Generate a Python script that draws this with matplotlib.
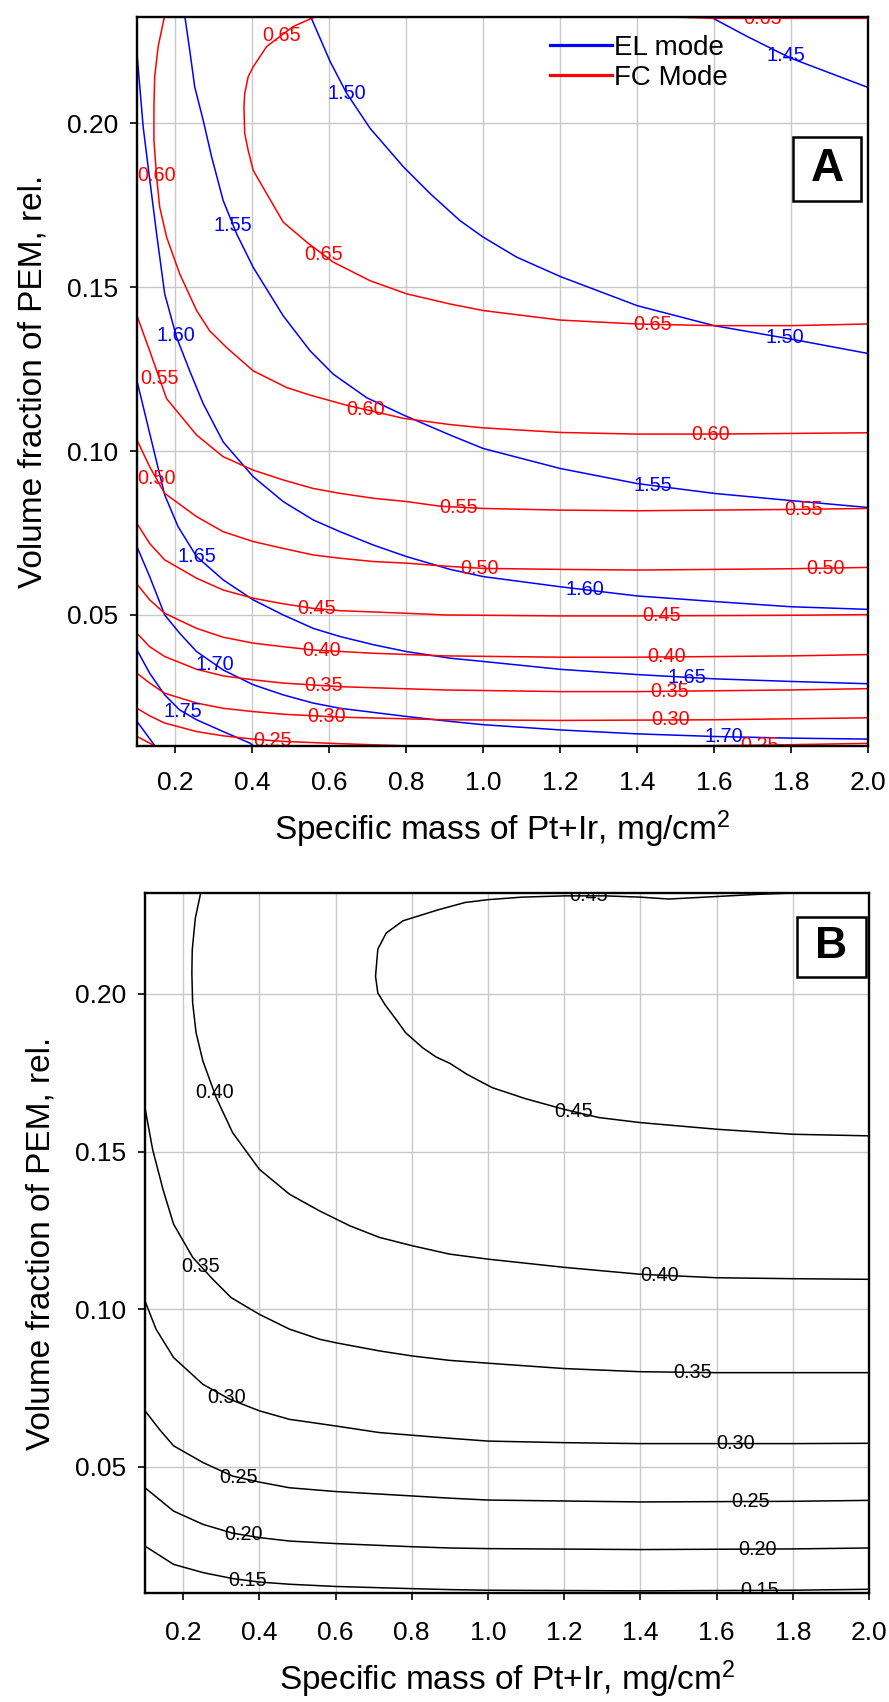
import numpy as np
import matplotlib
matplotlib.use("Agg")
import matplotlib.pyplot as plt
from matplotlib.lines import Line2D
from matplotlib.patches import Rectangle

plt.rcParams["font.family"] = ["Liberation Sans", "DejaVu Sans"]
plt.rcParams["mathtext.fontset"] = "custom"
plt.rcParams["mathtext.rm"] = "Liberation Sans"
plt.rcParams["mathtext.it"] = "Liberation Sans:italic"

# ---------------- Panel A: EL mode isolines (blue) ----------------
el_145_x = [1.583, 1.687, 1.80, 2.0]
el_145_y = [0.2330, 0.2265, 0.2199, 0.2110]
el_150_x = [0.550, 0.602, 0.645, 0.706, 0.793, 0.862, 0.939, 1.0, 1.087, 1.2, 1.4, 1.6, 1.8, 2.0]
el_150_y = [0.2330, 0.2189, 0.2092, 0.1985, 0.1867, 0.1786, 0.1704, 0.1653, 0.1592, 0.1533,
            0.1444, 0.1383, 0.1342, 0.1298]
el_155_x = [0.224, 0.237, 0.250, 0.272, 0.294, 0.324, 0.359, 0.402, 0.480, 0.550, 0.610, 0.697,
            0.793, 0.914, 1.0, 1.2, 1.4, 1.6, 1.8, 2.0]
el_155_y = [0.2330, 0.2224, 0.2112, 0.2010, 0.1898, 0.1765, 0.1663, 0.1561, 0.1413, 0.1306,
            0.1235, 0.1163, 0.1110, 0.1049, 0.1008, 0.0947, 0.0901, 0.0871, 0.0849, 0.0828]
el_160_x = [0.1, 0.116, 0.129, 0.151, 0.172, 0.203, 0.237, 0.272, 0.324, 0.402, 0.480, 0.558,
            0.628, 0.715, 0.801, 0.914, 1.0, 1.2, 1.4, 1.6, 1.8, 2.0]
el_160_y = [0.2214, 0.1990, 0.1867, 0.1663, 0.1480, 0.1347, 0.1245, 0.1145, 0.1028, 0.0922,
            0.0846, 0.0790, 0.0754, 0.0713, 0.0678, 0.0639, 0.0617, 0.0586, 0.0558, 0.0541,
            0.0525, 0.0517]
el_165_x = [0.1, 0.131, 0.172, 0.207, 0.255, 0.324, 0.402, 0.480, 0.558, 0.628, 0.715, 0.801,
            0.914, 1.0, 1.2, 1.4, 1.6, 1.8, 2.0]
el_165_y = [0.1214, 0.1064, 0.0866, 0.0769, 0.0678, 0.0607, 0.0546, 0.0500, 0.0459, 0.0434,
            0.0409, 0.0388, 0.0368, 0.0358, 0.0334, 0.0318, 0.0305, 0.0297, 0.0290]
el_170_x = [0.1, 0.133, 0.172, 0.211, 0.255, 0.324, 0.402, 0.480, 0.558, 0.628, 0.801, 0.914,
            1.0, 1.2, 1.4, 1.6, 1.8, 2.0]
el_170_y = [0.0708, 0.0617, 0.0500, 0.0444, 0.0388, 0.0332, 0.0287, 0.0256, 0.0231, 0.0215,
            0.0190, 0.0175, 0.0165, 0.0149, 0.0137, 0.0129, 0.0124, 0.0121]
el_175_x = [0.1, 0.133, 0.172, 0.211, 0.255, 0.324, 0.393, 0.410]
el_175_y = [0.0393, 0.0322, 0.0256, 0.0210, 0.0180, 0.0144, 0.0109, 0.0095]
el_180_x = [0.1, 0.150]
el_180_y = [0.0175, 0.0095]

# ---------------- Panel A: FC mode isolines (red) ----------------
fc_065_x = [0.571, 0.506, 0.437, 0.402, 0.389, 0.380, 0.378, 0.380, 0.389, 0.402, 0.437, 0.480,
            0.541, 0.610, 0.706, 0.801, 0.914, 1.0, 1.2, 1.4, 1.6, 1.8, 2.0]
fc_065_y = [0.2330, 0.2296, 0.2235, 0.2173, 0.2143, 0.2092, 0.2051, 0.1969, 0.1918, 0.1857,
            0.1786, 0.1699, 0.1638, 0.1577, 0.1520, 0.1480, 0.1449, 0.1429, 0.1400, 0.1388,
            0.1383, 0.1383, 0.1388]
fc_065b_x = [1.452, 1.6, 2.0]
fc_065b_y = [0.2326, 0.2321, 0.2321]
fc_060_x = [0.172, 0.155, 0.146, 0.144, 0.144, 0.151, 0.159, 0.177, 0.211, 0.255, 0.289, 0.333,
            0.402, 0.489, 0.550, 0.645, 0.793, 0.914, 1.0, 1.2, 1.4, 1.6, 1.8, 2.0]
fc_060_y = [0.2330, 0.2235, 0.2143, 0.2051, 0.1949, 0.1837, 0.1745, 0.1653, 0.1541, 0.1429,
            0.1367, 0.1316, 0.1245, 0.1194, 0.1171, 0.1140, 0.1100, 0.1081, 0.1071, 0.1057,
            0.1052, 0.1052, 0.1054, 0.1056]
fc_055_x = [0.1, 0.133, 0.177, 0.255, 0.324, 0.402, 0.480, 0.558, 0.628, 0.715, 0.801, 0.887,
            1.0, 1.2, 1.4, 1.6, 1.8, 2.0]
fc_055_y = [0.1413, 0.1306, 0.1160, 0.1049, 0.0983, 0.0942, 0.0912, 0.0886, 0.0871, 0.0856,
            0.0846, 0.0832, 0.0825, 0.0820, 0.0818, 0.0820, 0.0822, 0.0825]
fc_050_x = [0.1, 0.133, 0.172, 0.255, 0.324, 0.402, 0.480, 0.558, 0.628, 0.715, 0.801, 0.900,
            1.0, 1.2, 1.4, 1.6, 1.8, 2.0]
fc_050_y = [0.1034, 0.0952, 0.0871, 0.0800, 0.0754, 0.0724, 0.0703, 0.0683, 0.0673, 0.0663,
            0.0658, 0.0649, 0.0642, 0.0639, 0.0637, 0.0639, 0.0641, 0.0645]
fc_045_x = [0.1, 0.133, 0.172, 0.255, 0.324, 0.402, 0.480, 0.558, 0.628, 0.801, 0.900, 1.2,
            1.4, 1.8, 2.0]
fc_045_y = [0.0779, 0.0718, 0.0668, 0.0612, 0.0576, 0.0551, 0.0534, 0.0520, 0.0513, 0.0505,
            0.0500, 0.0497, 0.0497, 0.0499, 0.0501]
fc_040_x = [0.1, 0.133, 0.172, 0.255, 0.324, 0.402, 0.480, 0.558, 0.715, 0.900, 1.2, 1.4, 1.8, 2.0]
fc_040_y = [0.0594, 0.0546, 0.0505, 0.0459, 0.0432, 0.0414, 0.0403, 0.0393, 0.0383, 0.0375,
            0.0371, 0.0371, 0.0375, 0.0379]
fc_035_x = [0.1, 0.133, 0.172, 0.255, 0.324, 0.402, 0.480, 0.628, 0.900, 1.2, 1.4, 1.8, 2.0]
fc_035_y = [0.0444, 0.0403, 0.0373, 0.0334, 0.0314, 0.0302, 0.0292, 0.0281, 0.0271, 0.0266,
            0.0266, 0.0271, 0.0275]
fc_030_x = [0.1, 0.133, 0.172, 0.255, 0.324, 0.402, 0.480, 0.628, 0.900, 1.2, 1.6, 2.0]
fc_030_y = [0.0322, 0.0292, 0.0261, 0.0231, 0.0215, 0.0205, 0.0197, 0.0188, 0.0180, 0.0178,
            0.0180, 0.0186]
fc_025_x = [0.1, 0.133, 0.172, 0.255, 0.324, 0.402, 0.480, 0.628, 0.784]
fc_025_y = [0.0215, 0.0192, 0.0170, 0.0144, 0.0131, 0.0121, 0.0114, 0.0107, 0.0101]
fc_025b_x = [1.504, 1.75, 2.0]
fc_025b_y = [0.0100, 0.0103, 0.0108]
fc_020_x = [0.1, 0.155]
fc_020_y = [0.0129, 0.0095]

# ---------------- Panel B: isolines (black) ----------------
b_045_x = [1.8, 1.711, 1.6, 1.475, 1.4, 1.308, 1.2, 1.089, 1.0, 0.940, 0.870, 0.777, 0.733,
           0.711, 0.705, 0.711, 0.731, 0.759, 0.784, 0.829, 0.864, 0.900, 0.945, 1.011, 1.098,
           1.2, 1.291, 1.4, 1.6, 1.8, 2.0]
b_045_y = [0.2320, 0.2316, 0.2309, 0.2301, 0.2307, 0.2311, 0.2311, 0.2307, 0.2299, 0.2290,
           0.2267, 0.2232, 0.2193, 0.2142, 0.2056, 0.2003, 0.1964, 0.1919, 0.1877, 0.1829,
           0.1800, 0.1780, 0.1745, 0.1703, 0.1668, 0.1634, 0.1608, 0.1592, 0.1571, 0.1555, 0.1550]
b_040_x = [0.247, 0.232, 0.224, 0.223, 0.225, 0.234, 0.252, 0.287, 0.330, 0.400, 0.479, 0.558,
           0.637, 0.715, 0.803, 0.899, 1.0, 1.2, 1.4, 1.6, 1.8, 2.0]
b_040_y = [0.2325, 0.2240, 0.2140, 0.2066, 0.1972, 0.1877, 0.1787, 0.1671, 0.1560, 0.1444,
           0.1365, 0.1312, 0.1265, 0.1228, 0.1201, 0.1175, 0.1159, 0.1133, 0.1111, 0.1100,
           0.1097, 0.1095]
b_035_x = [0.1, 0.120, 0.147, 0.175, 0.225, 0.278, 0.326, 0.400, 0.479, 0.558, 0.600, 0.715,
           0.801, 0.899, 1.0, 1.2, 1.4, 1.6, 2.0]
b_035_y = [0.1639, 0.1507, 0.1381, 0.1270, 0.1165, 0.1095, 0.1037, 0.0984, 0.0937, 0.0905,
           0.0894, 0.0868, 0.0852, 0.0838, 0.0829, 0.0812, 0.0802, 0.0799, 0.0799]
b_030_x = [0.1, 0.129, 0.175, 0.252, 0.322, 0.400, 0.479, 0.600, 0.715, 0.899, 1.0, 1.2, 1.4,
           1.8, 2.0]
b_030_y = [0.1026, 0.0937, 0.0847, 0.0762, 0.0715, 0.0678, 0.0651, 0.0630, 0.0609, 0.0591,
           0.0582, 0.0577, 0.0574, 0.0574, 0.0575]
b_025_x = [0.1, 0.138, 0.175, 0.252, 0.330, 0.400, 0.479, 0.600, 0.801, 0.899, 1.0, 1.4, 1.8, 2.0]
b_025_y = [0.0678, 0.0619, 0.0567, 0.0514, 0.0471, 0.0452, 0.0434, 0.0422, 0.0408, 0.0401,
           0.0395, 0.0389, 0.0391, 0.0394]
b_020_x = [0.1, 0.175, 0.252, 0.330, 0.400, 0.479, 0.600, 0.801, 0.899, 1.0, 1.4, 1.8, 2.0]
b_020_y = [0.0434, 0.0360, 0.0318, 0.0290, 0.0276, 0.0265, 0.0257, 0.0247, 0.0243, 0.0241,
           0.0238, 0.0240, 0.0243]
b_015_x = [0.1, 0.175, 0.252, 0.330, 0.400, 0.479, 0.600, 0.801, 0.899, 1.0, 1.4, 1.8, 2.0]
b_015_y = [0.0249, 0.0191, 0.0165, 0.0146, 0.0135, 0.0128, 0.0121, 0.0114, 0.0111, 0.0109,
           0.0107, 0.0109, 0.0112]

x_ticks = [0.2, 0.4, 0.6, 0.8, 1.0, 1.2, 1.4, 1.6, 1.8, 2.0]
y_ticks = [0.05, 0.10, 0.15, 0.20]

BLUE = "#0000ff"
RED = "#ff0000"
BLACK = "#000000"

# (level, x list, y list) and label anchors: (curve index, 'x' or 'y', value)
el_lines = [("1.45", el_145_x, el_145_y), ("1.50", el_150_x, el_150_y),
            ("1.55", el_155_x, el_155_y), ("1.60", el_160_x, el_160_y),
            ("1.65", el_165_x, el_165_y), ("1.70", el_170_x, el_170_y),
            ("1.75", el_175_x, el_175_y), ("1.80", el_180_x, el_180_y)]
el_labels = [(0, "x", 1.787), (1, "x", 0.645), (1, "x", 1.783), (2, "y", 0.1689),
             (2, "x", 1.441), (3, "y", 0.1354), (3, "x", 1.265), (4, "x", 0.255),
             (4, "x", 1.528), (5, "x", 0.302), (5, "x", 1.626), (6, "x", 0.218)]
fc_lines = [("0.65", fc_065_x, fc_065_y), ("0.65", fc_065b_x, fc_065b_y),
            ("0.60", fc_060_x, fc_060_y), ("0.55", fc_055_x, fc_055_y),
            ("0.50", fc_050_x, fc_050_y), ("0.45", fc_045_x, fc_045_y),
            ("0.40", fc_040_x, fc_040_y), ("0.35", fc_035_x, fc_035_y),
            ("0.30", fc_030_x, fc_030_y), ("0.25", fc_025_x, fc_025_y),
            ("0.25", fc_025b_x, fc_025b_y), ("0.20", fc_020_x, fc_020_y)]
fc_labels = [(0, "x", 0.476), (0, "y", 0.160), (0, "x", 1.441), (1, "x", 1.726),
             (2, "y", 0.184), (2, "x", 0.695), (2, "x", 1.59), (3, "y", 0.1222),
             (3, "x", 0.935), (3, "x", 1.833), (4, "y", 0.0916), (4, "x", 0.991),
             (4, "x", 1.889), (5, "x", 0.567), (5, "x", 1.463), (6, "x", 0.58),
             (6, "x", 1.477), (7, "x", 0.586), (7, "x", 1.483), (8, "x", 0.593),
             (8, "x", 1.487), (9, "x", 0.452), (10, "x", 1.717)]
b_lines = [("0.45", b_045_x, b_045_y), ("0.40", b_040_x, b_040_y), ("0.35", b_035_x, b_035_y),
           ("0.30", b_030_x, b_030_y), ("0.25", b_025_x, b_025_y), ("0.20", b_020_x, b_020_y),
           ("0.15", b_015_x, b_015_y)]
b_labels = [(0, "x", 1.264), (0, "y", 0.1627), (1, "y", 0.1687), (1, "x", 1.45),
            (2, "x", 0.247), (2, "x", 1.538), (3, "x", 0.315), (3, "x", 1.651),
            (4, "x", 0.345), (4, "x", 1.689), (5, "x", 0.359), (5, "x", 1.707),
            (6, "x", 0.368), (6, "x", 1.713)]


def on_line(xs, ys, key, val):
    """First point of the polyline where x (or y) equals val."""
    a, b = (xs, ys) if key == "x" else (ys, xs)
    for i in range(len(a) - 1):
        lo, hi = sorted((a[i], a[i + 1]))
        if lo <= val <= hi and hi > lo:
            t = (val - a[i]) / (a[i + 1] - a[i])
            w = b[i] + t * (b[i + 1] - b[i])
            return (val, w) if key == "x" else (w, val)
    return None


def draw_lines(ax, lines, labels, color):
    for _, xs, ys in lines:
        ax.plot(xs, ys, color=color, lw=1.1, zorder=3)
    for idx, key, val in labels:
        text, xs, ys = lines[idx]
        pos = on_line(xs, ys, key, val)
        if pos is not None:
            ax.text(pos[0], pos[1], text, color=color, fontsize=14.3, ha="center",
                    va="center", zorder=4, clip_on=True)


def style(ax, ytop, xpad, xlabelpad):
    ax.set_xlim(0.1, 2.0)
    ax.set_ylim(0.01, ytop)
    ax.set_xticks(x_ticks)
    ax.set_xticklabels([f"{v:.1f}" for v in x_ticks])
    ax.set_yticks(y_ticks)
    ax.set_yticklabels([f"{v:.2f}" for v in y_ticks])
    ax.grid(True, color="#c8c8c8", lw=1.0, zorder=0)
    ax.set_axisbelow(True)
    for sp in ax.spines.values():
        sp.set_linewidth(1.7)
        sp.set_zorder(5)
    ax.tick_params(axis="both", direction="out", length=5, width=1.2, labelsize=19)
    ax.tick_params(axis="x", pad=xpad)
    ax.tick_params(axis="y", pad=8.5)
    ax.set_xlabel("Specific mass of Pt+Ir, mg/cm$^2$", fontsize=24, labelpad=xlabelpad)
    ax.set_ylabel("Volume fraction of PEM, rel.", fontsize=24, labelpad=13)


fig = plt.figure(figsize=(8.89, 17.02), dpi=100)
axA = fig.add_axes([0.1541, 0.5617, 0.8223, 0.4283])
axB = fig.add_axes([0.1631, 0.0640, 0.8144, 0.4113])

# ---- panel A ----
style(axA, 0.2325, 13.0, 10)
draw_lines(axA, el_lines, el_labels, BLUE)
draw_lines(axA, fc_lines, fc_labels, RED)
handles = [Line2D([], [], color=BLUE, lw=2.3), Line2D([], [], color=RED, lw=2.3)]
axA.legend(handles, ["EL mode", "FC Mode"], loc="upper left", bbox_to_anchor=(0.565, 0.976),
           frameon=False, fontsize=20, handlelength=2.23, handletextpad=0.08,
           labelspacing=0.16, borderpad=0, borderaxespad=0)
axA.add_patch(Rectangle((0.897, 0.748), 0.094, 0.087, transform=axA.transAxes,
                        fill=True, facecolor="white", edgecolor="black", lw=1.8, zorder=6))
axA.text(0.944, 0.7916, "A", transform=axA.transAxes, fontsize=33, fontweight="bold",
         ha="center", va="center", zorder=7)

# ---- panel B ----
style(axB, 0.232, 15.0, 10)
draw_lines(axB, b_lines, b_labels, BLACK)
axB.add_patch(Rectangle((0.9006, 0.8796), 0.0953, 0.0865, transform=axB.transAxes,
                        fill=True, facecolor="white", edgecolor="black", lw=1.8, zorder=6))
axB.text(0.948, 0.923, "B", transform=axB.transAxes, fontsize=32, fontweight="bold",
         ha="center", va="center", zorder=7)

fig.savefig("out.png", dpi=100)
